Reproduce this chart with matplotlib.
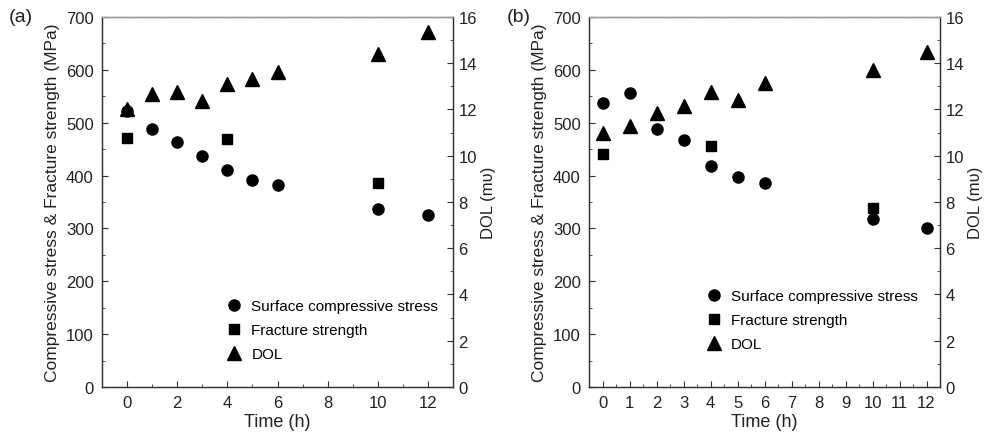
import matplotlib.pyplot as plt
from matplotlib.ticker import MultipleLocator

plt.rcParams['font.family'] = ['Liberation Sans', 'DejaVu Sans']

# panel (a)
time_a = [0, 1, 2, 3, 4, 5, 6, 10, 12]
stress_a = [522, 489, 464, 437, 410, 391, 383, 336, 325]
frac_time_a = [0, 4, 10]
fracture_a = [472, 469, 385]
dol_a = [12.0, 12.65, 12.75, 12.35, 13.1, 13.3, 13.6, 14.4, 15.35]

# panel (b)
time_b = [0, 1, 2, 3, 4, 5, 6, 10, 12]
stress_b = [538, 557, 489, 467, 418, 397, 386, 317, 301]
frac_time_b = [0, 4, 10]
fracture_b = [441, 456, 339]
dol_b = [11.0, 11.3, 11.85, 12.15, 12.75, 12.4, 13.15, 13.7, 14.5]

txt = '#222222'
fig = plt.figure(figsize=(9.84, 4.39), dpi=100)


def panel(rect, t, s, ft, f, d, xlim, xmajor, label, label_x, leg_anchor):
    ax = fig.add_axes(rect)
    ax.plot(t, s, 'o', color='black', ms=8, label='Surface compressive stress')
    ax.plot(ft, f, 's', color='black', ms=6.5, label='Fracture strength')
    ax2 = ax.twinx()
    ax2.plot(t, d, '^', color='black', ms=10, label='DOL')

    ax.set_xlim(*xlim)
    ax.set_ylim(0, 700)
    ax2.set_ylim(0, 16)
    ax.xaxis.set_major_locator(MultipleLocator(xmajor))
    ax.xaxis.set_minor_locator(MultipleLocator(xmajor / 2))
    ax.yaxis.set_major_locator(MultipleLocator(100))
    ax.yaxis.set_minor_locator(MultipleLocator(50))
    ax2.yaxis.set_major_locator(MultipleLocator(2))
    ax2.yaxis.set_minor_locator(MultipleLocator(1))

    for a in (ax, ax2):
        a.tick_params(which='both', direction='in', labelsize=12,
                      labelcolor=txt, color='#333333', top=False)
        a.tick_params(which='major', length=4, width=0.8)
        a.tick_params(which='minor', length=2, width=0.6)
        for name, sp in a.spines.items():
            sp.set_linewidth(0.9)
            sp.set_color('#333333')
        a.spines['top'].set_color('#999999')
        a.spines['top'].set_linestyle((0, (1, 0.5)))
    ax.tick_params(axis='x', pad=6)
    ax.tick_params(axis='y', pad=6)
    ax2.tick_params(axis='y', pad=4)

    ax.set_xlabel('Time (h)', fontsize=13, color=txt, labelpad=2)
    ax.set_ylabel('Compressive stress & Fracture strength (MPa)', fontsize=12.5,
                  color=txt, labelpad=4)
    ax2.set_ylabel('DOL (m\u028b)', fontsize=12, color=txt, labelpad=3)

    h1, l1 = ax.get_legend_handles_labels()
    h2, l2 = ax2.get_legend_handles_labels()
    ax.legend(h1 + h2, l1 + l2, loc='lower right', bbox_to_anchor=leg_anchor,
              frameon=False, fontsize=11, handlelength=1.0, handletextpad=0.6,
              labelspacing=0.65, borderaxespad=0)
    ax2.text(label_x, 1.0, label, transform=ax.transAxes, fontsize=14,
             color=txt, va='center', ha='left')
    return ax


panel([0.1037, 0.1162, 0.3567, 0.8428], time_a, stress_a, frac_time_a,
      fracture_a, dol_a, (-1, 13), 2, '(a)', -0.265, (0.975, 0.054))
panel([0.5986, 0.1162, 0.3567, 0.8428], time_b, stress_b, frac_time_b,
      fracture_b, dol_b, (-0.5, 12.5), 1, '(b)', -0.234, (0.955, 0.081))

fig.savefig('out.png', dpi=100)
